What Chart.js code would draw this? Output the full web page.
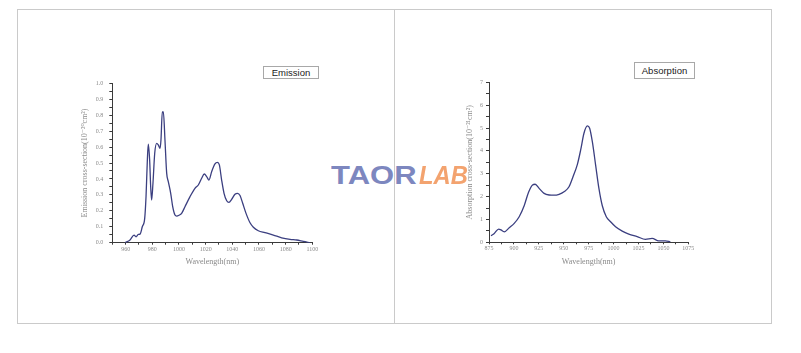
<!DOCTYPE html>
<html>
<head>
<meta charset="utf-8">
<script src="https://cdn.jsdelivr.net/npm/chart.js@4/dist/chart.umd.min.js"></script>
<style>
  html, body { margin: 0; padding: 0; background: #fff; }
  body { width: 801px; height: 353px; position: relative; overflow: hidden; }
  .panel { position: absolute; top: 9px; height: 315px; border: 1px solid #cacaca; box-sizing: border-box; }
  .cv { position: absolute; }
  .tag { position: absolute; border: 1px solid #a8a8a8; box-sizing: border-box; font: 9.5px "Liberation Sans", Arial, sans-serif; color: #222; text-align: center; background: #fff; }
  .wm { position: absolute; font-family: "Liberation Sans", Arial, sans-serif; font-weight: bold; font-size: 25px; line-height: 25px; transform-origin: left top; white-space: nowrap; }
</style>
</head>
<body>
<div class="panel" style="left:17px; width:378px;"></div>
<div class="panel" style="left:394px; width:378px;"></div>

<div class="cv" style="left:60px; top:70px;"><canvas id="emission_chart" width="265" height="210"></canvas></div>
<div class="cv" style="left:440px; top:70px;"><canvas id="absorption_chart" width="262" height="210"></canvas></div>

<div class="tag" style="left:263px; top:66px; width:56px; height:13px; line-height:11px;">Emission</div>
<div class="tag" style="left:634px; top:62px; width:61px; height:17px; line-height:15px;">Absorption</div>

<div class="wm" style="left:331px; top:163px; color:#7d87bf; transform:scaleX(1.24);">TAOR</div>
<div class="wm" style="left:419px; top:163px; color:#f3a36f; font-style:italic; transform:scaleX(0.95);">LAB</div>

<script>
// emission spectrum (nm, 10^-20 cm^2)
var em_wl = [959.5, 963.3, 966.3, 967.8, 969.5, 970.8, 972.5, 974.3, 975.3, 976.3, 977, 978, 978.8, 979.5, 980.5, 981.8, 983.3, 984.5, 985.8, 986.5, 987.5, 988.3, 989.5, 990.8, 992, 993.8, 995.3, 997, 998.3, 1000, 1002, 1004.5, 1008.3, 1012, 1014.5, 1017, 1019, 1020.8, 1022.5, 1024.5, 1027, 1028.8, 1030.3, 1032, 1033.8, 1035.8, 1037.5, 1039.5, 1042, 1044, 1045.8, 1047.8, 1050.3, 1053.3, 1055.8, 1059.5, 1064.5, 1070.8, 1077, 1083.3, 1088.3, 1093.3, 1098.3];
var em_val = [0, 0.017, 0.048, 0.037, 0.052, 0.054, 0.10, 0.153, 0.29, 0.52, 0.619, 0.52, 0.35, 0.268, 0.373, 0.56, 0.623, 0.613, 0.592, 0.644, 0.82, 0.82, 0.644, 0.435, 0.383, 0.31, 0.226, 0.174, 0.167, 0.172, 0.184, 0.226, 0.289, 0.341, 0.362, 0.404, 0.431, 0.415, 0.393, 0.445, 0.494, 0.504, 0.488, 0.393, 0.31, 0.263, 0.253, 0.272, 0.304, 0.31, 0.296, 0.247, 0.184, 0.125, 0.097, 0.075, 0.063, 0.048, 0.031, 0.021, 0.017, 0.008, 0];

// absorption spectrum (nm, 10^-21 cm^2)
var ab_wl = [877, 880.3, 884.7, 887, 890.3, 895.3, 900.3, 905.3, 910.3, 914.7, 918.7, 921.3, 925.3, 930.3, 935.3, 940.3, 945.3, 950.3, 955.3, 959.3, 963.7, 967, 970.3, 973.7, 976, 978.7, 982, 985.3, 988.7, 992.7, 997, 1002, 1008.7, 1015.3, 1023.7, 1032, 1038.7, 1045.3, 1052, 1057];
var ab_val = [0.29, 0.39, 0.58, 0.54, 0.46, 0.64, 0.83, 1.12, 1.6, 2.19, 2.51, 2.54, 2.36, 2.14, 2.07, 2.06, 2.1, 2.21, 2.43, 2.87, 3.41, 4.04, 4.77, 5.09, 4.99, 4.4, 3.38, 2.36, 1.6, 1.12, 0.9, 0.68, 0.49, 0.36, 0.25, 0.13, 0.17, 0.06, 0.06, 0.02];

// axis ticks: min, max, minor step, label step
var em_x_ticks = [950, 1100, 10, 20];
var em_y_ticks = [0, 1, 0.05, 0.1];
var ab_x_ticks = [875, 1075, 12.5, 25];
var ab_y_ticks = [0, 7, 0.5, 1];

var lineColor = '#3b3f80';
var axisColor = '#3a3a3a';
var textColor = '#8a8a8a';
var tickFont = {family: '"Liberation Serif", "DejaVu Serif", serif', size: 6};
var titleFont = {family: '"Liberation Serif", "DejaVu Serif", serif', size: 8};

function toPoints(xs, ys) {
  var pts = [];
  for (var i = 0; i < xs.length; i++) pts.push({x: xs[i], y: ys[i]});
  return pts;
}

function isMajor(v, step) {
  var k = v / step;
  return Math.abs(k - Math.round(k)) < 1e-6;
}

function makeChart(el, pts, xt, yt, xTitle, yTitle, fit) {
  return new Chart(el, {
    type: 'line',
    data: {
      datasets: [{
        data: pts,
        borderColor: lineColor,
        borderWidth: 1.3,
        pointRadius: 0,
        tension: 0.4,
        cubicInterpolationMode: 'monotone',
        fill: false
      }]
    },
    options: {
      responsive: false,
      animation: false,
      layout: {padding: {top: fit.top, right: fit.right, left: 0, bottom: 0}},
      plugins: {legend: {display: false}, tooltip: {enabled: false}},
      scales: {
        x: {
          type: 'linear',
          min: xt[0],
          max: xt[1],
          afterFit: function(s) { s.height = fit.xh; },
          border: {color: axisColor, width: 1},
          grid: {drawOnChartArea: false, tickLength: 2, tickColor: axisColor},
          ticks: {
            stepSize: xt[2],
            autoSkip: false,
            maxRotation: 0,
            padding: 1,
            color: textColor,
            font: tickFont,
            callback: function(v) { return isMajor(v, xt[3]) ? String(v) : ''; }
          },
          title: {display: true, text: xTitle, color: textColor, font: titleFont, padding: {top: 0, bottom: fit.xtp}}
        },
        y: {
          min: yt[0],
          max: yt[1],
          afterFit: function(s) { s.width = fit.yw; },
          border: {color: axisColor, width: 1},
          grid: {drawOnChartArea: false, tickLength: 3, tickColor: axisColor},
          ticks: {
            stepSize: yt[2],
            autoSkip: false,
            padding: fit.ypad,
            color: textColor,
            font: tickFont,
            callback: function(v) {
              if (!isMajor(v, yt[3])) return '';
              return yt[3] < 1 ? v.toFixed(1) : String(Math.round(v));
            }
          },
          title: {display: true, text: yTitle, color: textColor, font: titleFont, padding: {top: fit.ytp, bottom: 0}}
        }
      }
    }
  });
}

var emission_chart = makeChart(
  document.querySelector('#emission_chart').getContext('2d'),
  toPoints(em_wl, em_val), em_x_ticks, em_y_ticks,
  'Wavelength(nm)', 'Emission cross-section(10\u207B\u00B2\u2070cm\u00B2)',
  {top: 13.3, right: 12.7, xh: 37.3, yw: 52.3, xtp: 13.2, ytp: 20.2, ypad: 6}
);

var absorption_chart = makeChart(
  document.querySelector('#absorption_chart').getContext('2d'),
  toPoints(ab_wl, ab_val), ab_x_ticks, ab_y_ticks,
  'Wavelength(nm)', 'Absorption cross-section(10\u207B\u00B2\u00B9cm\u00B2)',
  {top: 12.3, right: 13.7, xh: 37.7, yw: 49, xtp: 13.2, ytp: 24.7, ypad: 3}
);
</script>
</body>
</html>
